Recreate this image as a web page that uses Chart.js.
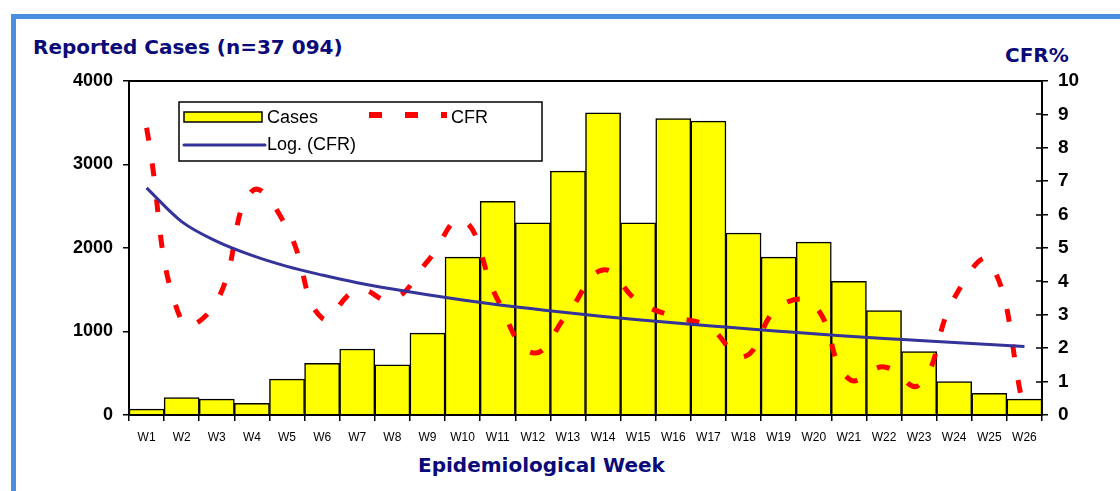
<!DOCTYPE html>
<html>
<head>
<meta charset="utf-8">
<script src="https://cdn.jsdelivr.net/npm/chart.js@4.4.0/dist/chart.umd.min.js"></script>
<style>
  body { margin: 0; background: #fff; overflow: hidden; }
  #wrap { position: relative; width: 1120px; height: 491px; overflow: hidden; }
  #frame { position: absolute; left: 11px; top: 14px; width: 1300px; height: 700px; border: 5px solid #4a8ee0; }
  .ttl { position: absolute; font-family: "DejaVu Sans", sans-serif; font-weight: bold; color: #0a0a78; font-size: 20px; line-height: 20px; white-space: nowrap; }
  canvas { position: absolute; left: 0; top: 0; }
</style>
</head>
<body>
<div id="wrap">
  <div id="frame"></div>
  <div class="ttl" style="left:33px;top:37px;">Reported Cases (n=37 094)</div>
  <div class="ttl" style="left:1005px;top:45px;">CFR%</div>
  <div class="ttl" style="left:418px;top:455px;">Epidemiological Week</div>
  <canvas id="myChart" width="1120" height="491"></canvas>
</div>
<script>
const weeks = ['W1','W2','W3','W4','W5','W6','W7','W8','W9','W10','W11','W12','W13',
  'W14','W15','W16','W17','W18','W19','W20','W21','W22','W23','W24','W25','W26'];
const cases = [70, 210, 190, 140, 430, 620, 790, 600, 980, 1890, 2560, 2300, 2920,
  3620, 2300, 3550, 3520, 2180, 1890, 2070, 1600, 1250, 760, 400, 260, 190];
const cfr = [8.6, 2.8, 3.4, 6.7, 5.6, 2.9, 3.75, 3.45, 4.6, 5.85, 3.45, 1.86, 3.05,
  4.34, 3.4, 2.95, 2.65, 1.74, 3.23, 3.3, 1.08, 1.44, 0.9, 3.5, 4.6, 0.1];
const logCfr = [6.8, 5.79, 5.2, 4.78, 4.45, 4.19, 3.96, 3.77, 3.6, 3.44, 3.3, 3.18, 3.06,
  2.95, 2.85, 2.76, 2.67, 2.59, 2.51, 2.43, 2.36, 2.29, 2.23, 2.17, 2.11, 2.05];
const casesTicks = [0, 1000, 2000, 3000, 4000];
const cfrTicks = [0, 1, 2, 3, 4, 5, 6, 7, 8, 9, 10];

// plot frame, inner tick marks on right axis and the boxed legend
const extras = {
  id: 'extras',
  afterDraw(chart) {
    const ctx = chart.ctx;
    const a = chart.chartArea;
    ctx.save();
    ctx.strokeStyle = '#000';
    ctx.lineWidth = 2;
    ctx.strokeRect(a.left, a.top, a.right - a.left, a.bottom - a.top);
    const yR = chart.scales.yR;
    ctx.lineWidth = 1.5;
    cfrTicks.forEach(v => {
      const y = Math.round(yR.getPixelForValue(v));
      ctx.beginPath();
      ctx.moveTo(a.right - 6, y);
      ctx.lineTo(a.right, y);
      ctx.stroke();
    });

    // legend
    const ds = chart.data.datasets;
    const lx = a.left + 50, ly = a.top + 21, lw = 363, lh = 59;
    ctx.fillStyle = '#fff';
    ctx.fillRect(lx, ly, lw, lh);
    ctx.lineWidth = 1.5;
    ctx.strokeStyle = '#000';
    ctx.strokeRect(lx, ly, lw, lh);
    ctx.font = '18px "Liberation Sans", Arial, sans-serif';
    ctx.textBaseline = 'middle';

    // Cases
    ctx.fillStyle = ds[2].backgroundColor;
    ctx.fillRect(lx + 5, ly + 10, 78, 10);
    ctx.lineWidth = 1.5;
    ctx.strokeRect(lx + 5, ly + 10, 78, 10);
    ctx.fillStyle = '#000';
    ctx.fillText(ds[2].label, lx + 88, ly + 16);

    // CFR
    ctx.save();
    ctx.strokeStyle = ds[0].borderColor;
    ctx.lineWidth = 6;
    ctx.setLineDash([13, 23]);
    ctx.beginPath();
    ctx.moveTo(lx + 190, ly + 13);
    ctx.lineTo(lx + 268, ly + 13);
    ctx.stroke();
    ctx.restore();
    ctx.fillText(ds[0].label, lx + 272, ly + 16);

    // Log trend
    ctx.strokeStyle = ds[1].borderColor;
    ctx.lineWidth = 3;
    ctx.lineCap = 'round';
    ctx.beginPath();
    ctx.moveTo(lx + 5, ly + 43);
    ctx.lineTo(lx + 86, ly + 43);
    ctx.stroke();
    ctx.fillStyle = '#000';
    ctx.fillText(ds[1].label, lx + 88, ly + 43);
    ctx.restore();
  }
};

const chartContext = document.getElementById('myChart').getContext('2d');
const myChart = new Chart(chartContext, {
  data: {
    labels: weeks,
    datasets: [
      {
        type: 'line',
        label: 'CFR',
        data: cfr,
        yAxisID: 'yR',
        borderColor: '#ff0000',
        borderWidth: 5,
        borderDash: [13, 23],
        pointRadius: 0,
        tension: 0.45,
        fill: false,
        order: 1
      },
      {
        type: 'line',
        label: 'Log. (CFR)',
        data: logCfr,
        yAxisID: 'yR',
        borderColor: '#333399',
        borderWidth: 3,
        pointRadius: 0,
        cubicInterpolationMode: 'monotone',
        fill: false,
        order: 0
      },
      {
        type: 'bar',
        label: 'Cases',
        data: cases,
        yAxisID: 'y',
        backgroundColor: '#ffff00',
        borderColor: '#000',
        borderWidth: 1.5,
        barPercentage: 1,
        categoryPercentage: 1,
        order: 2
      }
    ]
  },
  options: {
    responsive: false,
    animation: false,
    layout: { padding: { top: 81, left: 0, right: 0, bottom: 0 } },
    plugins: { legend: { display: false }, tooltip: { enabled: false } },
    scales: {
      x: {
        offset: true,
        grid: { offset: true, drawOnChartArea: false, drawTicks: true, tickLength: 6, color: '#000', lineWidth: 1.5 },
        border: { display: true, color: '#000', width: 2 },
        ticks: { color: '#000', font: { family: '"Liberation Sans", Arial, sans-serif', size: 12 }, padding: 9, maxRotation: 0, autoSkip: false },
        afterFit: s => { s.height = 76; }
      },
      y: {
        position: 'left',
        min: 0,
        max: 4000,
        afterBuildTicks: s => { s.ticks = casesTicks.map(v => ({ value: v })); },
        grid: { drawOnChartArea: false, drawTicks: true, tickLength: 6, color: '#000', lineWidth: 1.5 },
        border: { display: true, color: '#000', width: 2 },
        ticks: { color: '#000', font: { family: '"Liberation Sans", Arial, sans-serif', size: 18, weight: 'bold' }, padding: 10, callback: v => String(v) },
        afterFit: s => { s.width = 129; }
      },
      yR: {
        position: 'right',
        min: 0,
        max: 10,
        afterBuildTicks: s => { s.ticks = cfrTicks.map(v => ({ value: v })); },
        grid: { drawOnChartArea: false, drawTicks: true, tickLength: 6, color: '#000', lineWidth: 1.5 },
        border: { display: true, color: '#000', width: 2 },
        ticks: { color: '#000', font: { family: '"Liberation Sans", Arial, sans-serif', size: 19, weight: 'bold' }, padding: 10, callback: v => String(v) },
        afterFit: s => { s.width = 78; }
      }
    }
  },
  plugins: [extras]
});
</script>
</body>
</html>
